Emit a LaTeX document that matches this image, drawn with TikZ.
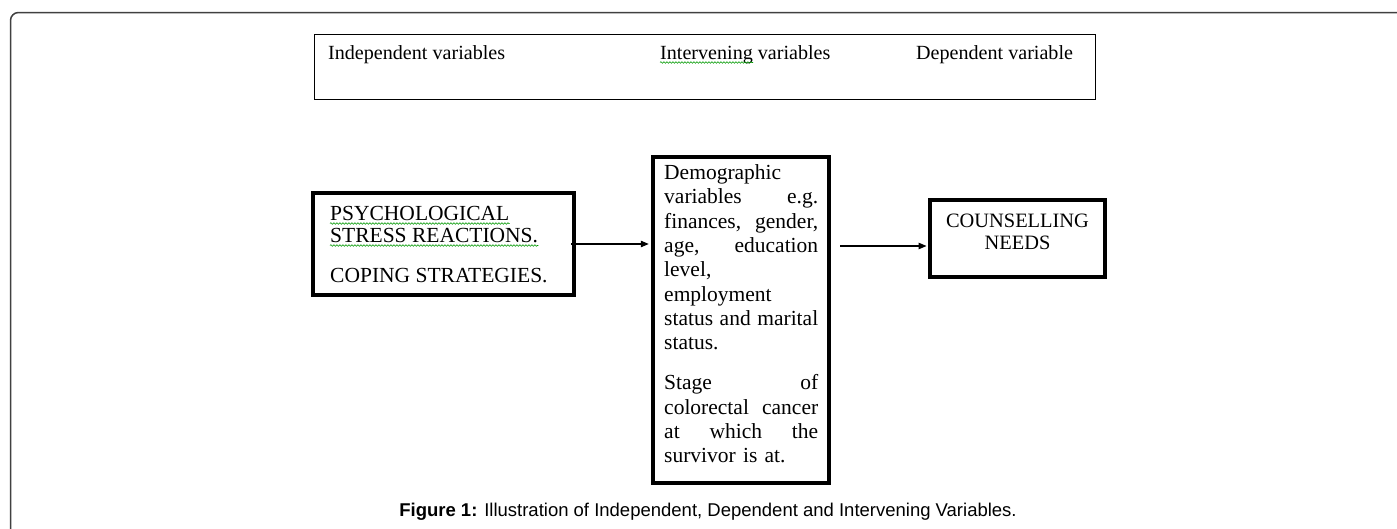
\documentclass[tikz,border=0pt]{standalone}
\usepackage{fontspec}
\setmainfont{Liberation Serif}
\newfontfamily\capfont{Liberation Sans}
\usetikzlibrary{arrows.meta,decorations.pathmorphing}
\begin{document}
\begin{tikzpicture}[x=1pt,y=-1pt,
  thickbox/.style={draw, line width=4pt, inner sep=0pt},
  thinbox/.style={draw, line width=1.2pt, inner sep=0pt},
  hdrtxt/.style={font=\fontsize{20.1}{22}\selectfont, inner sep=0pt},
  boxtxt/.style={font=\fontsize{21.5}{24.3}\selectfont, inner sep=0pt},
  conn/.style={-{Triangle[length=8pt,width=6.5pt]}, line width=1.1pt},
  squig/.style={draw=green!60!black, line width=0.6pt, decorate,
    decoration={snake, amplitude=0.8pt, segment length=3pt}}]
\useasboundingbox (0,0) rectangle (1397,528);
\clip (0,0) rectangle (1397,528);
\fill[white] (0,0) rectangle (1397,528);
% outer frame
\draw[line width=1.5pt, draw=black!75, rounded corners=8pt] (10.5,560) -- (10.5,12.5) -- (1420,12.5);
% header box
\node[thinbox, minimum width=781pt, minimum height=65pt, anchor=north west] (hdr) at (314,34) {};
\node[hdrtxt, anchor=base west] (ind) at (328,59) {Independent variables};
\node[hdrtxt, anchor=base west] (int) at (660,59) {Intervening variables};
\node[hdrtxt, anchor=base west] (dep) at (916,59) {Dependent variable};
\draw[squig] ([yshift=-3.5pt]int.base west) -- ++(93,0);
% left box
\node[thickbox, minimum width=261pt, minimum height=102pt] (L) at (443.5,244) {};
\node[boxtxt, anchor=base west] (p1) at (330,220) {PSYCHOLOGICAL};
\node[boxtxt, anchor=base west] (p2) at (330,242) {STRESS REACTIONS.};
\node[boxtxt, anchor=base west] (p3) at (330,282) {COPING STRATEGIES.};
\draw[squig] ([yshift=-3.5pt]p1.base west) -- ([yshift=-3.5pt]p1.base east);
\draw[squig] ([yshift=-3.5pt]p2.base west) -- ([yshift=-3.5pt]p2.base east);
% middle box
\node[thickbox, line width=4.5pt, minimum width=176pt, minimum height=326pt] (M) at (741,320) {};
\node[boxtxt, text width=154pt, align=left, anchor=north west] (mt) at (664,164.5)
 {Demographic\\ variables\hfill e.g.\\ finances,\hfill gender,\\ age,\hfill education\\ level,\\ employment\\ status\hfill and\hfill marital\\ status.\\[15.7pt] Stage\hfill of\\ colorectal\hfill cancer\\ at\hfill which\hfill the\\ survivor is at.};
% right box
\node[thickbox, minimum width=175pt, minimum height=77pt] (R) at (1017.5,238.5) {};
\node[font=\fontsize{20.4}{22}\selectfont, inner sep=0pt, align=center, anchor=north] (rt) at (1017.5,213.5) {COUNSELLING\\NEEDS};
% connectors
\draw[conn, shorten >=2pt] ([xshift=-5pt]L.east) -- (L.east -| M.west);
\coordinate (a2) at (840,246);
\draw[conn, shorten >=1.5pt] (a2) -- (a2 -| R.west);
% caption
\node[font=\capfont\fontsize{18.5}{20}\selectfont, inner sep=0pt, anchor=base] (cap) at (708,516)
 {\textbf{Figure 1:} Illustration of Independent, Dependent and Intervening Variables.};
\end{tikzpicture}
\end{document}
